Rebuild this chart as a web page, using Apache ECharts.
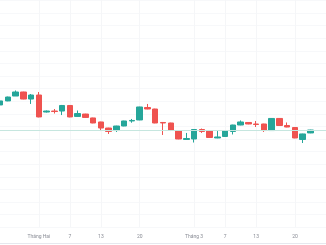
<!DOCTYPE html>
<html>
<head>
<meta charset="utf-8">
<script src="https://cdn.jsdelivr.net/npm/echarts@6/dist/echarts.min.js"></script>
<style>html,body{margin:0;padding:0;background:#fff}#c{width:326px;height:245px}</style>
</head>
<body>
<div id="c"></div>
<script>
// Trading days (plus two empty future slots at the right edge)
const dates = ['2023-01-25','2023-01-26','2023-01-27','2023-01-30','2023-01-31',
  '2023-02-01','2023-02-02','2023-02-03','2023-02-06','2023-02-07','2023-02-08','2023-02-09','2023-02-10',
  '2023-02-13','2023-02-14','2023-02-15','2023-02-16','2023-02-17','2023-02-20','2023-02-21','2023-02-22',
  '2023-02-23','2023-02-24','2023-02-27','2023-02-28',
  '2023-03-01','2023-03-02','2023-03-03','2023-03-06','2023-03-07','2023-03-08','2023-03-09','2023-03-10',
  '2023-03-13','2023-03-14','2023-03-15','2023-03-16','2023-03-17','2023-03-20','2023-03-21','2023-03-22',
  '2023-03-23','2023-03-24'];
const opens  = [109.70,110.02,110.41,110.73,110.17,110.49,109.14,109.22,109.22,109.66,108.79,108.98,108.67,
  108.35,107.87,107.67,108.03,108.43,108.51,109.50,109.38,108.31,108.27,107.67,106.96,
  107.00,107.75,107.63,107.08,107.20,107.60,108.11,108.31,108.19,108.19,107.67,108.63,108.07,107.91,106.96,107.48];
const closes = [110.02,110.33,110.73,110.17,110.49,108.75,109.22,109.18,109.66,108.75,109.02,108.71,108.27,
  107.87,107.60,108.03,108.43,108.47,109.54,109.38,108.27,108.27,107.71,107.00,107.04,
  107.75,107.60,107.12,107.16,107.63,108.11,108.35,108.19,108.15,107.67,108.63,108.07,107.95,107.08,107.40,107.71];
const lows   = [109.65,110.00,110.41,110.15,109.78,108.72,109.10,109.02,108.90,108.72,108.77,108.69,108.25,
  107.63,107.40,107.56,108.01,108.29,108.49,109.36,108.25,107.32,107.63,106.98,106.94,
  106.72,107.48,107.10,107.06,107.18,107.36,108.09,108.17,107.95,107.56,107.65,108.05,107.93,107.06,106.68,107.46];
const highs  = [110.06,110.36,110.85,110.75,110.57,110.73,109.26,109.38,109.70,109.68,109.26,109.00,108.69,
  108.37,107.89,108.05,108.45,108.59,109.56,109.78,109.40,108.35,108.29,107.69,107.48,
  107.77,107.83,107.65,107.63,107.65,108.13,108.47,108.33,108.43,108.21,108.65,108.65,108.31,107.93,107.42,107.73];
const tickDates  = ['2023-02-01','2023-02-07','2023-02-13','2023-02-20','2023-03-01','2023-03-07','2023-03-13','2023-03-20'];
const tickLabels = ['Tháng Hai','7','13','20','Tháng 3','7','13','20'];

const candles = opens.map((o, i) => [o, closes[i], lows[i], highs[i]]);
const lastClose = closes[closes.length - 1];
const isTick = (i) => tickDates.indexOf(dates[i]) >= 0;

const chart = echarts.init(document.getElementById('c'), null, {renderer: 'canvas'});
chart.setOption({
  animation: false,
  backgroundColor: '#ffffff',
  grid: {left: -1.2, right: -2.2, top: 0, bottom: 17.8, containLabel: false},
  xAxis: {
    type: 'category',
    data: dates,
    boundaryGap: false,
    axisLine: {show: false},
    axisTick: {show: false},
    splitLine: {show: true, interval: (i) => isTick(i), lineStyle: {color: '#f5f6f8', width: 1}},
    axisLabel: {
      interval: (i) => isTick(i),
      formatter: (v) => { const k = tickDates.indexOf(v); return k >= 0 ? tickLabels[k] : ''; },
      fontFamily: 'Roboto', fontSize: 5, color: '#8a8d96', margin: 7, hideOverlap: false
    }
  },
  yAxis: {
    type: 'value',
    min: 100, max: 118.03, interval: 1,
    axisLine: {show: false}, axisTick: {show: false}, axisLabel: {show: false},
    splitLine: {show: true, lineStyle: {color: '#f7f8fa', width: 1}}
  },
  graphic: [{type: 'line', shape: {x1: 0, y1: 243.5, x2: 326, y2: 243.5}, style: {stroke: '#e6e8ee', lineWidth: 1}, silent: true}],
  series: [{
    type: 'candlestick',
    data: candles,
    barWidth: 6,
    itemStyle: {color: '#26a69a', color0: '#ef5350', borderColor: '#26a69a', borderColor0: '#ef5350', borderWidth: 1},
    markLine: {
      symbol: 'none', silent: true, label: {show: false},
      lineStyle: {color: '#c6e6df', width: 1, type: 'solid'},
      data: [{yAxis: lastClose}]
    }
  }]
});
</script>
</body>
</html>
